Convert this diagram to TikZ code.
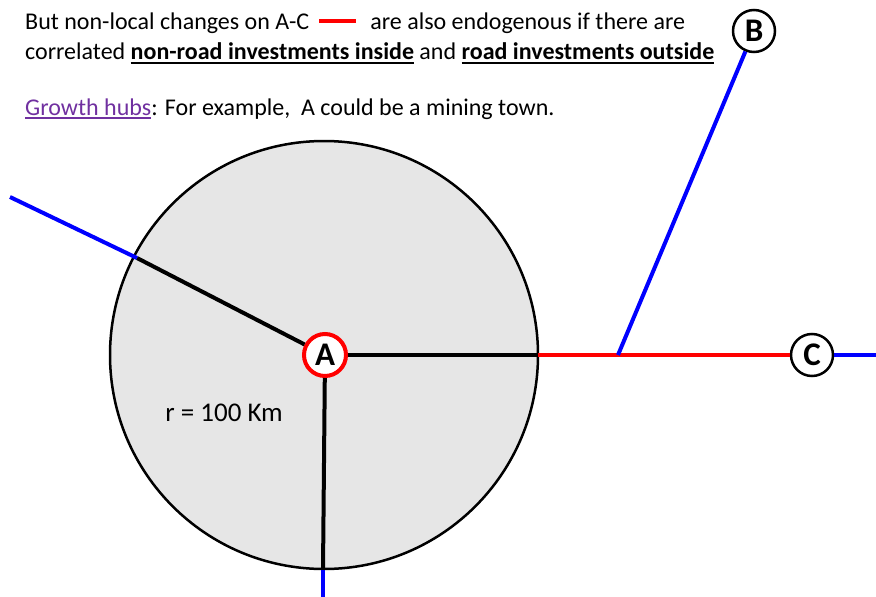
\documentclass[tikz,border=0pt]{standalone}
\usepackage{fontspec}
\setmainfont{Carlito}
\usepackage{tikz}
\definecolor{hubpurple}{HTML}{7030A0}
\definecolor{zonegray}{HTML}{E6E6E6}
% underline with a chosen depth and thickness
\newcommand{\roadul}[3]{\setbox0\hbox{#3}\rlap{\rule[-#1]{\wd0}{#2}}\box0\relax}
\tikzset{
  road/.style={line width=4pt},
  blackroad/.style={road, black},
  blueroad/.style={road, blue},
  redroad/.style={road, red},
  town/.style={circle, draw, fill=white, line width=2.5pt, minimum size=42pt, inner sep=0pt, font=\fontsize{33}{33}\selectfont\bfseries},
  txt/.style={anchor=base west, inner sep=0pt, font=\fontsize{24}{28}\selectfont}
}
\begin{document}
\begin{tikzpicture}[x=1pt, y=-1pt]
\useasboundingbox (0,0) rectangle (876,597);

    % Text at the top
    \node[txt] (line1) at (25,29) {But non-local changes on A-C\hspace{10pt}\textcolor{red}{\rule[6pt]{37pt}{4pt}}\hspace{14pt}are also endogenous if there are};
    \node[txt] (line2) at (25,59) {correlated \roadul{4.8pt}{2pt}{\textbf{non-road investments inside}} and \roadul{4.8pt}{2pt}{\textbf{road investments outside}}};
    \node[txt] (line3) at (25,115) {\textcolor{hubpurple}{\roadul{3.6pt}{1.3pt}{Growth hubs}}: For example,\ \ A could be a mining town.};

    % Zone around A
    \draw[line width=2.5pt, fill=zonegray] (324,355) circle (214pt);
    \node[font=\fontsize{27}{28}\selectfont] (radius) at (224,413) {r = 100 Km};

    % Towns
    \node[town, draw=red, line width=4pt] (A) at (325,355) {A};
    \node[town] (B) at (754,31) {B};
    \node[town] (C) at (812,355) {C};

    % Points on the edge of the zone
    \coordinate (nw) at (137,258);
    \coordinate (farw) at (10,197);
    \coordinate (s) at (323,570);
    \coordinate (fars) at (323,597);
    \coordinate (e) at (538,355);
    \coordinate (j) at (618,355);
    \coordinate (fare) at (876,355);

    % Roads inside
    \draw[blackroad] (A) -- (nw);
    \draw[blackroad] (A) -- (s);
    \draw[blackroad] (A) -- (e);

    % Roads outside
    \draw[blueroad] (nw) -- (farw);
    \draw[blueroad] (s) -- (fars);
    \draw[redroad] (e) -- (C);
    \draw[blueroad] (C) -- (fare);
    \draw[blueroad] (j) -- (B);

\end{tikzpicture}
\end{document}
